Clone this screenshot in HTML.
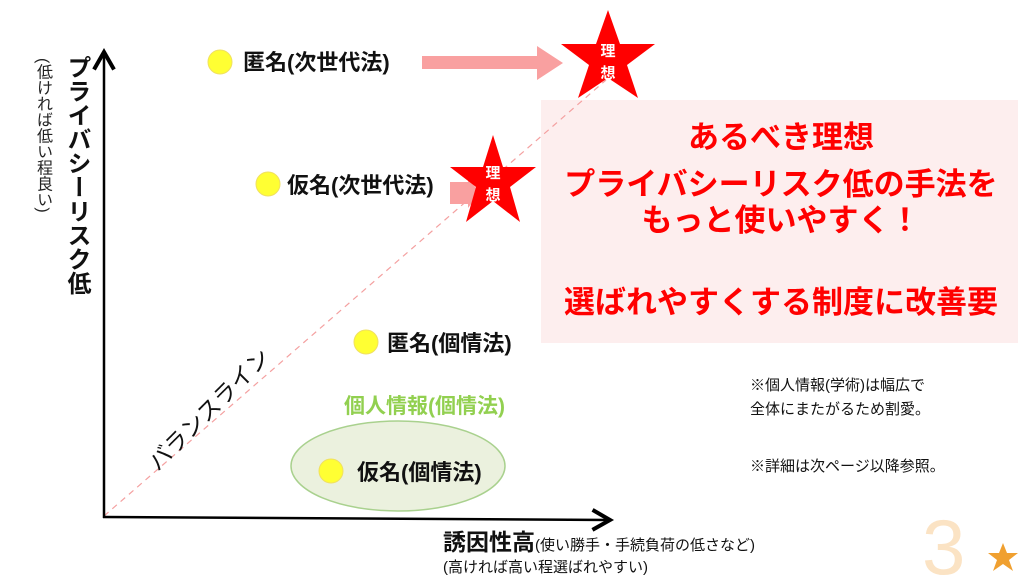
<!DOCTYPE html>
<html><head><meta charset="utf-8"><style>
body{margin:0;width:1024px;height:576px;overflow:hidden;background:#fff;position:relative}
svg text,.v{font-family:"Liberation Sans","Noto Sans CJK JP",sans-serif}
svg{position:absolute;left:0;top:0}
.v{position:absolute;writing-mode:vertical-rl;white-space:nowrap;line-height:1}
</style></head><body>
<svg width="1024" height="576" viewBox="0 0 1024 576">
<defs><marker id="ah" markerWidth="10" markerHeight="10" refX="8" refY="5" orient="auto"><path d="M1,1 L8,5 L1,9" fill="none" stroke="#000" stroke-width="1.6"/></marker></defs>
<rect x="541" y="100" width="477" height="243" fill="#fdeeee"/>
<line x1="104" y1="516" x2="606" y2="80" stroke="#f4a0a0" stroke-width="1.2" stroke-dasharray="6,5"/>
<line x1="104" y1="518" x2="104" y2="52" stroke="#000" stroke-width="2.5" marker-end="url(#ah)"/>
<line x1="103" y1="517" x2="610" y2="520" stroke="#000" stroke-width="2.5" marker-end="url(#ah)"/>
<polygon points="422,56 537,56 537,46 563,63 537,80 537,69 422,69" fill="#f9a0a0"/>
<polygon points="450,182 468,182 468,178 480,193 468,208 468,204 450,204" fill="#f9a0a0"/>
<g fill="#ff0000">
<polygon points="608,10 620,44 655,44 627,65 638,98 608,78 578,98 589,65 561,44 596,44"/>
<polygon points="493,135 503,167 536,167 510,187 520,222 493,201 466,222 476,187 450,167 483,167"/>
</g>
<g fill="#fff" font-size="15" font-weight="bold" text-anchor="middle">
<text x="608" y="56">理</text><text x="608" y="78">想</text>
<text x="493" y="178">理</text><text x="493" y="200">想</text>
</g>
<ellipse cx="398" cy="466" rx="107" ry="45" fill="#ebf1de" stroke="#a9d18e" stroke-width="1.5"/>
<g fill="#ffff33" stroke="#f0e060" stroke-width="1">
<circle cx="220" cy="62" r="12"/><circle cx="268" cy="184" r="12"/>
<circle cx="366" cy="342" r="12"/><circle cx="331" cy="471" r="12"/>
</g>
<g font-size="22" fill="#111" font-weight="bold">
<text x="243" y="70">匿名(次世代法)</text>
<text x="287" y="193">仮名(次世代法)</text>
<text x="387" y="351">匿名(個情法)</text>
<text x="357" y="480">仮名(個情法)</text>
</g>
<text x="344" y="413" font-size="21" fill="#92d050" font-weight="bold">個人情報(個情法)</text>
<g fill="#ff0000" font-size="31" font-weight="bold" text-anchor="middle">
<text x="781" y="148">あるべき理想</text>
<text x="781" y="195">プライバシーリスク低の手法を</text>
<text x="781" y="231">もっと使いやすく！</text>
<text x="781" y="313">選ばれやすくする制度に改善要</text>
</g>
<text x="0" y="0" font-size="23" fill="#111" transform="translate(158,472) rotate(-45)">バランスライン</text>
<g font-size="15" fill="#111">
<text x="750" y="390">※個人情報(学術)は幅広で</text>
<text x="750" y="414">全体にまたがるため割愛。</text>
<text x="750" y="471">※詳細は次ページ以降参照。</text>
<text x="443" y="572">(高ければ高い程選ばれやすい)</text>
</g>
<text x="443" y="550" font-size="23" font-weight="bold" fill="#111">誘因性高<tspan font-size="15" font-weight="normal">(使い勝手・手続負荷の低さなど)</tspan></text>
<text x="922" y="574" font-size="78" fill="#fbe3c4" font-family="Liberation Sans">3</text>
<polygon points="1003,543 1007,553 1018,553 1009,560 1013,571 1003,564 993,571 997,560 988,553 999,553" fill="#f0a030"/>
</svg>
<div class="v" style="left:64px;top:55px;font-size:24px;font-weight:bold;color:#111">プライバシーリスク低</div>
<div class="v" style="left:34px;top:58px;font-size:16px;color:#222">(低ければ低い程良い)</div>
</body></html>
